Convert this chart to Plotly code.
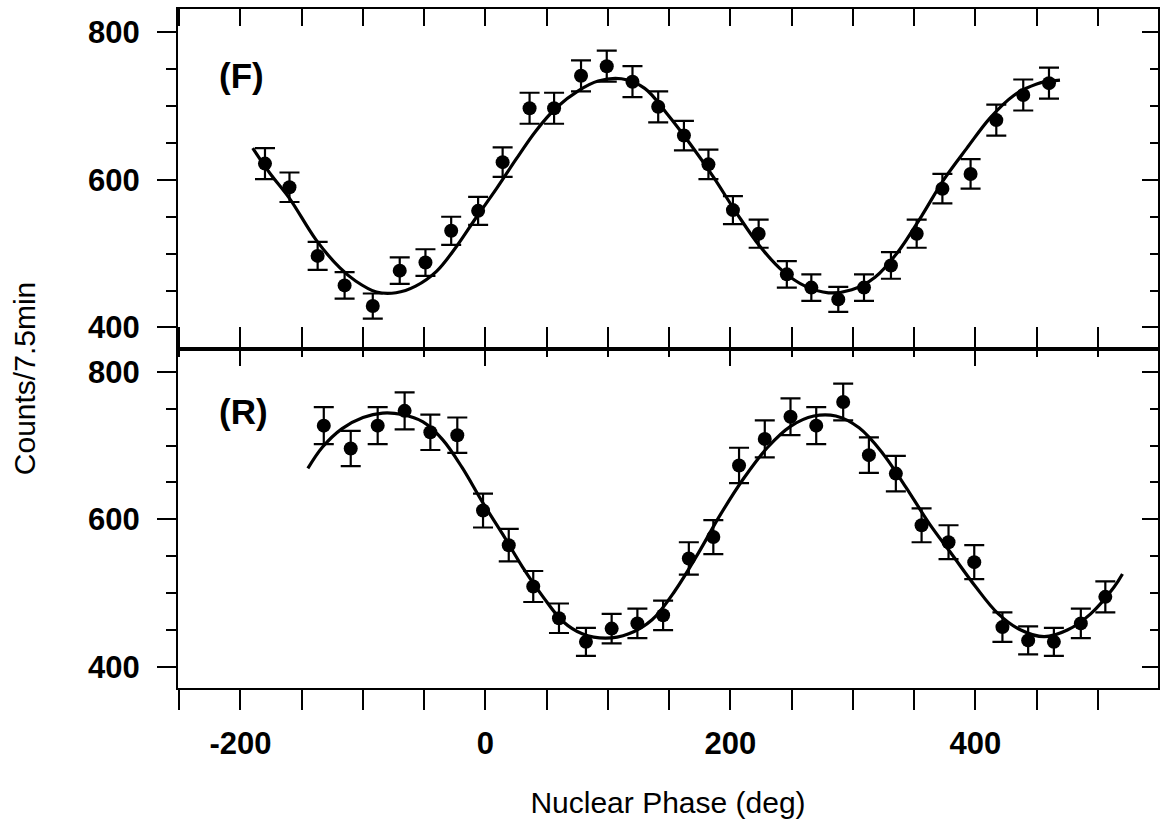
import plotly.graph_objects as go

# ---- data ----
phase_F = [-180, -160, -137, -115, -92, -70, -49, -28, -6, 14, 36, 56, 78, 99, 120, 141,
           162, 182, 202, 223, 246, 266, 288, 309, 331, 352, 373, 396, 417, 439, 460]
counts_F = [622, 590, 497, 457, 429, 477, 488, 531, 558, 624, 697, 697, 741, 754, 733, 699,
            660, 621, 559, 527, 472, 454, 438, 454, 484, 527, 588, 608, 681, 715, 731]
err_F = [21, 20, 19, 18, 17, 18, 18, 19, 19, 20, 21, 21, 21, 21, 21, 21,
         20, 20, 19, 19, 18, 18, 17, 18, 18, 19, 20, 20, 21, 21, 21]

fit_phase_F = [-190, -176, -160, -138, -119, -106, -89, -73, -57, -40, -24, -8, 9, 25, 41, 58,
               76, 92, 111, 130, 148, 167, 186, 205, 224, 243, 261, 280, 299, 318, 337, 356,
               374, 393, 412, 431, 450, 469]
fit_counts_F = [643, 609, 575, 518, 481, 463, 448, 447, 456, 476, 509, 548, 588, 628, 666, 698,
                721, 734, 737, 724, 690, 649, 604, 555, 510, 476, 456, 447, 451, 468, 503, 551,
                600, 643, 684, 714, 730, 735]

phase_R = [-132, -110, -88, -66, -45, -23, -2, 19, 39, 60, 82, 103, 124, 145, 166, 186,
           207, 228, 249, 270, 292, 313, 335, 356, 378, 399, 422, 443, 464, 486, 506]
counts_R = [727, 696, 727, 747, 718, 714, 612, 565, 509, 466, 434, 452, 459, 470, 547, 576,
            673, 709, 739, 727, 759, 687, 662, 592, 569, 542, 454, 436, 434, 459, 495]
err_R = [25, 24, 25, 25, 24, 24, 23, 22, 21, 20, 19, 20, 20, 20, 22, 23,
         24, 25, 25, 25, 25, 24, 24, 23, 23, 23, 20, 19, 19, 20, 21]

fit_phase_R = [-145, -133, -117, -100, -84, -68, -51, -35, -19, -2, 14, 30, 47, 63, 79, 98,
               117, 136, 155, 174, 192, 211, 230, 249, 268, 286, 305, 324, 343, 362, 381, 400,
               418, 437, 456, 475, 494, 513, 520]
fit_counts_R = [669, 698, 723, 738, 744, 742, 732, 708, 670, 622, 580, 536, 495, 462, 445, 439,
                445, 464, 504, 555, 607, 656, 697, 726, 740, 740, 724, 690, 644, 595, 552, 509,
                473, 450, 441, 450, 472, 508, 526]

x_ticks = [-200, 0, 200, 400]
x_ticktext = ["-200", "0", "200", "400"]
y_ticks = [400, 600, 800]
y_ticktext = ["400", "600", "800"]
panel_labels = ["(F)", "(R)"]

FONT = "Arial, 'Liberation Sans', sans-serif"
X_RANGE = [-251, 549]
Y_RANGE = [371.5, 831.5]

fig = go.Figure()

def add_panel(px, py, perr, fx, fy, xa, ya):
    fig.add_trace(go.Scatter(
        x=px, y=py, mode="markers", xaxis=xa, yaxis=ya,
        marker=dict(color="black", size=14, symbol="circle"),
        error_y=dict(type="data", array=perr, visible=True, color="black",
                     thickness=2.2, width=10),
        showlegend=False))
    fig.add_trace(go.Scatter(
        x=fx, y=fy, mode="lines", xaxis=xa, yaxis=ya,
        line=dict(color="black", width=3.2, shape="spline", smoothing=1.0),
        showlegend=False))

add_panel(phase_F, counts_F, err_F, fit_phase_F, fit_counts_F, "x", "y")
add_panel(phase_R, counts_R, err_R, fit_phase_R, fit_counts_R, "x2", "y2")

# empty traces so that the extra tick-only axes (inward ticks on the right / top) get drawn
for xa, ya in [("x", "y3"), ("x3", "y2"), ("x2", "y4")]:
    fig.add_trace(go.Scatter(x=[], y=[], mode="markers", xaxis=xa, yaxis=ya,
                             showlegend=False, hoverinfo="skip"))

tickfont = dict(family=FONT, size=31, color="black", weight="bold")

common_x = dict(range=X_RANGE, tickvals=x_ticks, ticktext=x_ticktext, showgrid=False,
                zeroline=False, tickcolor="black", tickwidth=2, linecolor="black", linewidth=2)
common_y = dict(range=Y_RANGE, tickvals=y_ticks, ticktext=y_ticktext, showgrid=False,
                zeroline=False, tickcolor="black", tickwidth=2, linecolor="black", linewidth=2)

def minor(direction, length):
    return dict(dtick=50, tick0=0, ticks=direction, ticklen=length,
                tickcolor="black", tickwidth=2)

fig.update_layout(
    width=1163, height=825,
    margin=dict(l=178, r=5, t=9, b=137, autoexpand=False),
    paper_bgcolor="white", plot_bgcolor="white",
    font=dict(family=FONT, color="black"),
    # top panel
    xaxis=dict(**common_x, anchor="y", domain=[0, 1], ticks="inside", ticklen=17,
               showline=True, mirror="allticks", showticklabels=False,
               minor=minor("inside", 8)),
    yaxis=dict(**common_y, anchor="x", domain=[0.5, 1], ticks="outside", ticklen=19,
               showline=True, mirror=True, tickfont=tickfont, ticklabelstandoff=11,
               minor=minor("outside", 10)),
    yaxis3=dict(**common_y, anchor="x", overlaying="y", side="right", ticks="inside",
                ticklen=16, showline=False, showticklabels=False,
                minor=minor("inside", 8)),
    # bottom panel
    xaxis2=dict(**common_x, anchor="y2", domain=[0, 1], ticks="outside", ticklen=20,
                showline=True, mirror="allticks", tickfont=tickfont, ticklabelstandoff=7,
                title=dict(text="Nuclear Phase (deg)", standoff=32,
                           font=dict(family=FONT, size=30, color="black")),
                minor=minor("outside", 10)),
    xaxis3=dict(**common_x, anchor="y2", overlaying="x2", side="top", ticks="inside",
                ticklen=17, showline=False, showticklabels=False,
                minor=minor("inside", 8)),
    yaxis2=dict(**common_y, anchor="x2", domain=[0, 0.5], ticks="outside", ticklen=19,
                showline=True, mirror=True, tickfont=tickfont, ticklabelstandoff=11,
                minor=minor("outside", 10)),
    yaxis4=dict(**common_y, anchor="x2", overlaying="y2", side="right", ticks="inside",
                ticklen=16, showline=False, showticklabels=False,
                minor=minor("inside", 8)),
)

fig.add_annotation(text=panel_labels[0], x=-219, y=742, xref="x", yref="y",
                   xanchor="left", yanchor="middle", showarrow=False,
                   font=dict(family=FONT, size=35, color="black", weight="bold"))
fig.add_annotation(text=panel_labels[1], x=-219, y=746, xref="x2", yref="y2",
                   xanchor="left", yanchor="middle", showarrow=False,
                   font=dict(family=FONT, size=35, color="black", weight="bold"))
fig.add_annotation(text="Counts/7.5min", x=-0.157, y=0.455, xref="paper", yref="paper",
                   xanchor="center", yanchor="middle", textangle=-90, showarrow=False,
                   font=dict(family=FONT, size=30, color="black"))

# remove the browser's default page margin so the figure sits at the window origin
page_css = ("document.documentElement.style.margin='0';"
            "document.body.style.margin='0';"
            "document.body.style.overflow='hidden';"
            "document.documentElement.style.overflow='hidden';")
fig.write_html("out.html", post_script=page_css, config={"displayModeBar": False})
